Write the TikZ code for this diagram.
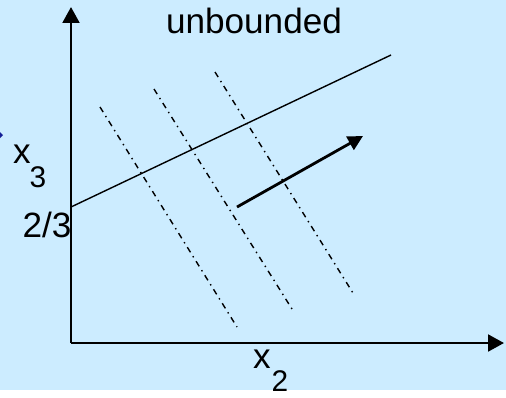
\documentclass[tikz,border=0pt]{standalone}
\usepackage{fontspec}
\setmainfont{Liberation Sans}
\usetikzlibrary{arrows.meta}
\definecolor{panelblue}{RGB}{204,236,255}
\definecolor{bulletblue}{RGB}{20,30,150}

\begin{document}
\begin{tikzpicture}[
    x=0.02cm,
    y=-0.02cm,
    font=\fontsize{20}{24}\selectfont,
    axis/.style={
        -{Triangle[length=9pt,width=9.5pt]},
        line width=1.4pt
    },
    bound/.style={
        line width=0.8pt
    },
    level/.style={
        line width=0.8pt,
        dash pattern=on 3.4pt off 2.6pt on 0.8pt off 2.6pt
    },
    dirarrow/.style={
        -{Triangle[length=8.5pt,width=8.5pt]},
        line width=1.6pt
    },
    lbl/.style={
        inner sep=0pt
    },
    sub/.style={
        inner sep=0pt,
        font=\fontsize{17}{20}\selectfont
    }
]

% Rahmen und Hintergrund
\useasboundingbox (0,0) rectangle (506,397);
\fill[panelblue] (0,0) rectangle (506,390);

% abgeschnittener Aufzaehlungspunkt
\fill[bulletblue] (-1,131) -- (3,135) -- (-1,139) -- (-5,135) -- cycle;

% Achsen
\coordinate (o) at (71,343);
\coordinate (xend) at (504,343);
\coordinate (yend) at (71,7);

\draw[axis] (o) -- (xend);
\draw[axis] (o) -- (yend);

\node[lbl] (x2) at (262,359) {x};
\node[sub] (x2i) at (280,381) {2};

\node[lbl] (x3) at (22,154) {x};
\node[sub] (x3i) at (38,177) {3};

\node[lbl] (tick) at (47,225) {2/3};

% Begrenzung
\coordinate (b0) at (71,207);
\coordinate (b1) at (391,55);
\draw[bound] (b0) -- (b1);

% Niveaulinien
\coordinate (l1a) at (100,107);
\coordinate (l1b) at (237,327);
\coordinate (l2a) at (154,89);
\coordinate (l2b) at (292,309);
\coordinate (l3a) at (215,72);
\coordinate (l3b) at (353,293);

\draw[level] (l1a) -- (l1b);
\draw[level] (l2a) -- (l2b);
\draw[level] (l3a) -- (l3b);

% Richtung
\coordinate (g0) at (237,207);
\coordinate (g1) at (363,136);
\draw[dirarrow] (g0) -- (g1);

\node[lbl] (title) at (254,21) {unbounded};

\end{tikzpicture}
\end{document}
